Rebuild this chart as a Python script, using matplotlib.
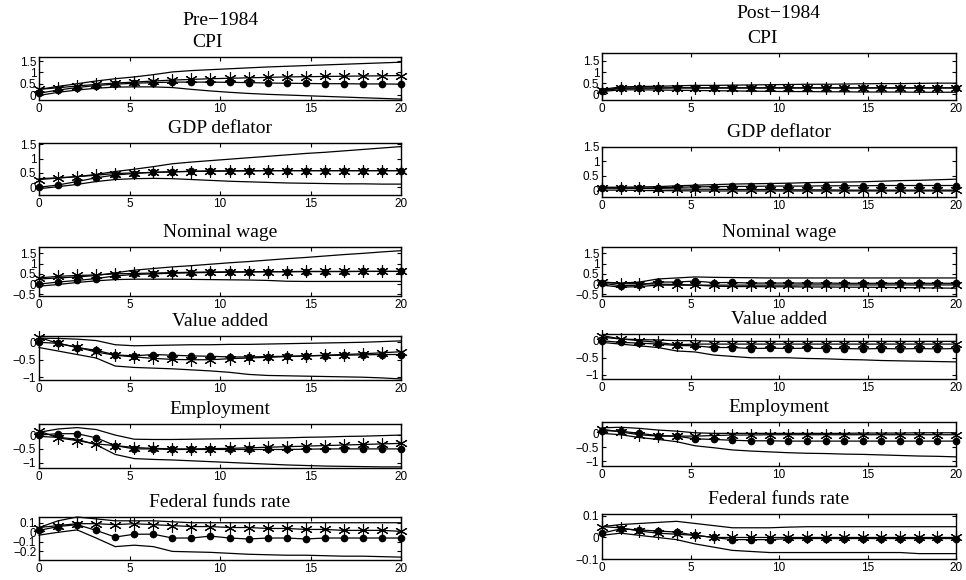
import numpy as np
import matplotlib
matplotlib.use("Agg")
import matplotlib.pyplot as plt
from matplotlib.ticker import FuncFormatter

# 20 responses spread over the 0-20 quarter axis
horizon = np.linspace(0, 20, 20)

titles = ["CPI", "GDP deflator", "Nominal wage", "Value added",
          "Employment", "Federal funds rate"]

# ---------------- Pre-1984 ----------------
pre_cpi_hi = [0.25, 0.38, 0.5, 0.62, 0.72, 0.8, 0.9, 1.02, 1.08, 1.12,
              1.16, 1.2, 1.24, 1.27, 1.3, 1.33, 1.36, 1.39, 1.42, 1.45]
pre_cpi_lo = [-0.02, 0.12, 0.22, 0.3, 0.35, 0.36, 0.36, 0.33, 0.25, 0.18,
              0.12, 0.07, 0.03, 0.0, -0.03, -0.06, -0.09, -0.12, -0.15, -0.18]
pre_cpi_est = [0.08, 0.22, 0.33, 0.42, 0.48, 0.52, 0.55, 0.57, 0.57, 0.57,
               0.56, 0.55, 0.53, 0.52, 0.51, 0.5, 0.5, 0.49, 0.49, 0.48]
pre_cpi_alt = [0.25, 0.32, 0.4, 0.47, 0.53, 0.57, 0.62, 0.66, 0.69, 0.72,
               0.74, 0.76, 0.78, 0.8, 0.81, 0.82, 0.83, 0.84, 0.85, 0.86]

pre_gdp_hi = [0.3, 0.33, 0.37, 0.45, 0.55, 0.63, 0.72, 0.82, 0.88, 0.93,
              0.98, 1.03, 1.08, 1.13, 1.18, 1.22, 1.27, 1.32, 1.37, 1.42]
pre_gdp_lo = [-0.05, 0.02, 0.1, 0.2, 0.27, 0.3, 0.31, 0.3, 0.27, 0.24,
              0.21, 0.19, 0.17, 0.15, 0.14, 0.13, 0.12, 0.12, 0.11, 0.11]
pre_gdp_est = [0.0, 0.08, 0.2, 0.33, 0.43, 0.48, 0.52, 0.54, 0.56, 0.57,
               0.57, 0.58, 0.58, 0.58, 0.58, 0.58, 0.58, 0.58, 0.58, 0.58]
pre_gdp_alt = [0.27, 0.32, 0.37, 0.42, 0.48, 0.5, 0.52, 0.54, 0.55, 0.56,
               0.57, 0.57, 0.58, 0.58, 0.58, 0.58, 0.58, 0.58, 0.58, 0.58]

pre_wage_hi = [0.25, 0.3, 0.35, 0.42, 0.55, 0.68, 0.76, 0.84, 0.9, 0.97,
               1.04, 1.1, 1.17, 1.24, 1.3, 1.37, 1.44, 1.5, 1.57, 1.63]
pre_wage_lo = [-0.1, -0.02, 0.08, 0.16, 0.22, 0.24, 0.24, 0.24, 0.23, 0.22,
               0.21, 0.2, 0.18, 0.14, 0.13, 0.13, 0.13, 0.13, 0.13, 0.13]
pre_wage_est = [0.0, 0.1, 0.18, 0.27, 0.4, 0.47, 0.5, 0.53, 0.55, 0.57,
                0.58, 0.59, 0.6, 0.6, 0.61, 0.61, 0.61, 0.62, 0.62, 0.62]
pre_wage_alt = [0.3, 0.38, 0.42, 0.45, 0.5, 0.52, 0.54, 0.56, 0.58, 0.59,
                0.6, 0.6, 0.61, 0.61, 0.62, 0.62, 0.62, 0.62, 0.62, 0.62]

pre_va_hi = [0.12, 0.11, 0.09, 0.05, -0.07, -0.1, -0.09, -0.08, -0.07, -0.07,
             -0.06, -0.06, -0.05, -0.04, -0.03, -0.02, -0.01, 0.0, 0.02, 0.04]
pre_va_lo = [-0.15, -0.25, -0.35, -0.45, -0.68, -0.72, -0.74, -0.76, -0.79, -0.82,
             -0.86, -0.92, -0.95, -0.96, -0.97, -0.98, -0.99, -1.0, -1.02, -1.05]
pre_va_est = [0.0, -0.03, -0.15, -0.23, -0.36, -0.39, -0.35, -0.37, -0.39, -0.4,
              -0.42, -0.42, -0.41, -0.4, -0.39, -0.38, -0.37, -0.36, -0.35, -0.35]
pre_va_alt = [0.14, -0.03, -0.14, -0.28, -0.37, -0.42, -0.46, -0.49, -0.5, -0.5,
              -0.47, -0.45, -0.43, -0.41, -0.39, -0.37, -0.35, -0.33, -0.3, -0.27]

pre_emp_hi = [0.1, 0.22, 0.27, 0.2, 0.0, -0.15, -0.16, -0.16, -0.15, -0.14,
              -0.13, -0.12, -0.11, -0.1, -0.08, -0.07, -0.05, -0.04, -0.02, 0.0]
pre_emp_lo = [-0.05, -0.08, -0.15, -0.35, -0.7, -0.85, -0.88, -0.9, -0.93, -0.96,
              -0.99, -1.02, -1.05, -1.08, -1.1, -1.12, -1.13, -1.14, -1.15, -1.15]
pre_emp_est = [0.0, 0.05, 0.05, -0.1, -0.38, -0.5, -0.5, -0.52, -0.52, -0.52,
               -0.52, -0.52, -0.52, -0.52, -0.51, -0.5, -0.5, -0.5, -0.5, -0.5]
pre_emp_alt = [0.15, -0.1, -0.2, -0.32, -0.38, -0.45, -0.48, -0.5, -0.5, -0.49,
               -0.48, -0.46, -0.44, -0.42, -0.4, -0.38, -0.36, -0.34, -0.32, -0.3]

pre_ffr_hi = [0.05, 0.12, 0.16, 0.14, 0.12, 0.12, 0.12, 0.11, 0.1, 0.1,
              0.1, 0.1, 0.1, 0.1, 0.1, 0.1, 0.1, 0.1, 0.1, 0.1]
pre_ffr_lo = [-0.03, 0.0, 0.025, -0.06, -0.15, -0.135, -0.15, -0.2, -0.205, -0.21,
              -0.22, -0.23, -0.235, -0.24, -0.24, -0.245, -0.25, -0.25, -0.255, -0.26]
pre_ffr_est = [0.02, 0.06, 0.08, 0.02, -0.05, -0.02, -0.02, -0.06, -0.06, -0.04,
               -0.06, -0.07, -0.06, -0.06, -0.07, -0.06, -0.06, -0.06, -0.06, -0.06]
pre_ffr_alt = [0.05, 0.07, 0.09, 0.09, 0.08, 0.09, 0.08, 0.07, 0.06, 0.06,
               0.05, 0.05, 0.04, 0.04, 0.03, 0.03, 0.02, 0.02, 0.02, 0.01]

# ---------------- Post-1984 ----------------
post_cpi_hi = [0.22, 0.33, 0.35, 0.36, 0.38, 0.4, 0.4, 0.41, 0.42, 0.43,
               0.44, 0.45, 0.45, 0.46, 0.47, 0.48, 0.48, 0.49, 0.5, 0.5]
post_cpi_lo = [0.12, 0.2, 0.2, 0.19, 0.18, 0.17, 0.16, 0.15, 0.14, 0.13,
               0.12, 0.12, 0.11, 0.11, 0.1, 0.1, 0.1, 0.09, 0.09, 0.09]
post_cpi_est = [0.15, 0.27, 0.28, 0.28, 0.29, 0.29, 0.29, 0.29, 0.29, 0.29,
                0.29, 0.29, 0.29, 0.29, 0.29, 0.29, 0.29, 0.29, 0.29, 0.29]
post_cpi_alt = [0.18, 0.28, 0.28, 0.28, 0.29, 0.28, 0.28, 0.28, 0.28, 0.28,
                0.28, 0.28, 0.28, 0.28, 0.28, 0.28, 0.28, 0.28, 0.28, 0.28]

post_gdp_hi = [0.1, 0.1, 0.11, 0.12, 0.15, 0.17, 0.19, 0.21, 0.22, 0.23,
               0.24, 0.26, 0.27, 0.28, 0.29, 0.31, 0.33, 0.34, 0.36, 0.38]
post_gdp_lo = [0.0, 0.0, -0.01, -0.02, -0.02, -0.03, -0.03, -0.03, -0.03, -0.03,
               -0.03, -0.03, -0.03, -0.03, -0.03, -0.03, -0.03, -0.03, -0.03, -0.03]
post_gdp_est = [0.07, 0.07, 0.07, 0.08, 0.1, 0.11, 0.12, 0.13, 0.13, 0.14,
                0.14, 0.14, 0.15, 0.15, 0.15, 0.16, 0.16, 0.16, 0.16, 0.16]
post_gdp_alt = [0.08, 0.07, 0.06, 0.05, 0.04, 0.03, 0.03, 0.02, 0.02, 0.02,
                0.01, 0.01, 0.01, 0.0, 0.0, 0.0, 0.0, 0.0, 0.0, 0.0]

post_wage_hi = [0.1, 0.05, 0.1, 0.25, 0.3, 0.35, 0.33, 0.32, 0.31, 0.3,
                0.3, 0.3, 0.3, 0.3, 0.3, 0.3, 0.3, 0.3, 0.3, 0.3]
post_wage_lo = [-0.05, -0.15, -0.12, -0.05, -0.05, -0.05, -0.1, -0.12, -0.12, -0.13,
                -0.13, -0.14, -0.14, -0.15, -0.15, -0.16, -0.17, -0.18, -0.19, -0.2]
post_wage_est = [0.05, -0.08, -0.05, 0.1, 0.1, 0.15, 0.07, 0.08, 0.05, 0.05,
                 0.05, 0.05, 0.05, 0.04, 0.04, 0.04, 0.04, 0.04, 0.04, 0.04]
post_wage_alt = [0.1, 0.02, 0.02, 0.0, -0.02, -0.05, -0.05, -0.05, -0.05, -0.05,
                 -0.05, -0.04, -0.04, -0.04, -0.04, -0.04, -0.04, -0.04, -0.04, -0.04]

post_va_hi = [0.1, 0.05, 0.03, 0.02, 0.0, 0.0, -0.02, -0.02, -0.02, -0.02,
              -0.02, -0.02, -0.02, -0.02, -0.02, -0.02, -0.02, -0.02, -0.02, -0.02]
post_va_lo = [-0.05, -0.1, -0.15, -0.2, -0.3, -0.33, -0.42, -0.46, -0.5, -0.5,
              -0.5, -0.52, -0.53, -0.55, -0.56, -0.58, -0.59, -0.6, -0.61, -0.62]
post_va_est = [0.0, -0.05, -0.07, -0.1, -0.14, -0.15, -0.2, -0.2, -0.23, -0.22,
               -0.23, -0.22, -0.23, -0.23, -0.24, -0.23, -0.24, -0.23, -0.24, -0.23]
post_va_alt = [0.15, 0.05, 0.0, -0.05, -0.12, -0.1, -0.1, -0.1, -0.1, -0.1,
               -0.1, -0.1, -0.1, -0.1, -0.1, -0.1, -0.1, -0.1, -0.1, -0.1]

post_emp_hi = [0.2, 0.22, 0.18, 0.12, 0.08, 0.02, 0.0, 0.0, 0.0, 0.0,
               0.0, 0.0, 0.0, 0.0, 0.01, 0.01, 0.01, 0.02, 0.02, 0.02]
post_emp_lo = [0.0, -0.05, -0.15, -0.22, -0.3, -0.45, -0.52, -0.6, -0.64, -0.67,
               -0.7, -0.72, -0.73, -0.75, -0.76, -0.78, -0.8, -0.82, -0.83, -0.85]
post_emp_est = [0.1, 0.08, 0.0, -0.08, -0.1, -0.2, -0.22, -0.25, -0.27, -0.27,
                -0.28, -0.28, -0.28, -0.28, -0.28, -0.28, -0.28, -0.28, -0.28, -0.28]
post_emp_alt = [0.15, 0.05, -0.05, -0.1, -0.1, -0.1, -0.08, -0.06, -0.06, -0.05,
                -0.05, -0.05, -0.05, -0.05, -0.05, -0.05, -0.05, -0.05, -0.05, -0.05]

post_ffr_hi = [0.05, 0.06, 0.065, 0.07, 0.075, 0.065, 0.055, 0.045, 0.045, 0.045,
               0.048, 0.05, 0.05, 0.05, 0.05, 0.05, 0.05, 0.05, 0.05, 0.05]
post_ffr_lo = [0.01, 0.02, 0.01, 0.0, -0.01, -0.03, -0.045, -0.06, -0.065, -0.07,
               -0.07, -0.07, -0.07, -0.07, -0.07, -0.07, -0.07, -0.075, -0.075, -0.075]
post_ffr_est = [0.02, 0.04, 0.035, 0.03, 0.025, 0.01, 0.0, -0.01, -0.01, -0.01,
                -0.005, -0.005, -0.005, -0.005, -0.005, -0.005, -0.005, -0.005, -0.005, -0.005]
post_ffr_alt = [0.05, 0.045, 0.03, 0.02, 0.015, 0.01, 0.0, 0.0, 0.0, 0.0,
                0.0, 0.0, 0.0, 0.0, 0.0, 0.0, 0.0, 0.0, 0.0, 0.0]

pre_panels = [
    (pre_cpi_hi, pre_cpi_lo, pre_cpi_est, pre_cpi_alt),
    (pre_gdp_hi, pre_gdp_lo, pre_gdp_est, pre_gdp_alt),
    (pre_wage_hi, pre_wage_lo, pre_wage_est, pre_wage_alt),
    (pre_va_hi, pre_va_lo, pre_va_est, pre_va_alt),
    (pre_emp_hi, pre_emp_lo, pre_emp_est, pre_emp_alt),
    (pre_ffr_hi, pre_ffr_lo, pre_ffr_est, pre_ffr_alt),
]
post_panels = [
    (post_cpi_hi, post_cpi_lo, post_cpi_est, post_cpi_alt),
    (post_gdp_hi, post_gdp_lo, post_gdp_est, post_gdp_alt),
    (post_wage_hi, post_wage_lo, post_wage_est, post_wage_alt),
    (post_va_hi, post_va_lo, post_va_est, post_va_alt),
    (post_emp_hi, post_emp_lo, post_emp_est, post_emp_alt),
    (post_ffr_hi, post_ffr_lo, post_ffr_est, post_ffr_alt),
]

# y ranges and ticks for each row
pre_ylims = [(-0.22, 1.68), (-0.27, 1.545), (-0.58, 1.81),
             (-1.08, 0.18), (-1.19, 0.4), (-0.29, 0.16)]
post_ylims = [(-0.26, 1.86), (-0.24, 1.5), (-0.58, 1.81),
              (-1.12, 0.195), (-1.18, 0.41), (-0.1, 0.109)]
pre_yticks = [[0, 0.5, 1, 1.5], [0, 0.5, 1, 1.5], [-0.5, 0, 0.5, 1, 1.5],
              [-1, -0.5, 0], [-1, -0.5, 0], [-0.2, -0.1, 0, 0.1]]
post_yticks = [[0, 0.5, 1, 1.5], [0, 0.5, 1, 1.5], [-0.5, 0, 0.5, 1, 1.5],
               [-1, -0.5, 0], [-1, -0.5, 0], [-0.1, 0, 0.1]]

# axes boxes in pixels: (top, bottom) per row, (left, right) per column
pre_rows = [(57, 100), (143, 195), (247, 296), (336, 380), (424, 468), (517, 560)]
post_rows = [(53, 100), (147, 197), (247, 296), (334, 379), (422, 466), (514, 559)]
pre_cols = (39, 401)
post_cols = (602, 956)

W, H = 966, 580
SERIF = ["Liberation Serif", "DejaVu Serif"]
SANS = ["Liberation Sans", "DejaVu Sans"]


def fmt(v, pos):
    return f"{v:g}".replace("-", "\u2212")


def draw_panel(fig, cols, rows, series, ylim, yticks, title):
    left, right = cols
    top, bottom = rows
    ax = fig.add_axes([left / W, 1 - bottom / H, (right - left) / W, (bottom - top) / H])
    hi, lo, est, alt = series
    ax.plot(horizon, hi, color="black", lw=0.9, clip_on=False)
    ax.plot(horizon, lo, color="black", lw=0.9, clip_on=False)
    ax.plot(horizon, alt, color="black", lw=0.9, marker=(6, 2, 0), ms=9,
            mew=0.8, clip_on=False)
    ax.plot(horizon, est, color="black", lw=0.9, marker="o", ms=4.5, clip_on=False)
    ax.set_xlim(0, 20)
    ax.set_ylim(*ylim)
    ax.set_xticks([0, 5, 10, 15, 20])
    ax.set_yticks(yticks)
    ax.yaxis.set_major_formatter(FuncFormatter(fmt))
    ax.tick_params(direction="in", length=3, width=0.8, top=True, right=True,
                   labelsize=8.5, pad=2)
    for lab in ax.get_xticklabels() + ax.get_yticklabels():
        lab.set_family(SANS)
    for sp in ax.spines.values():
        sp.set_linewidth(1.0)
    ax.set_title(title, fontsize=14, family=SERIF, pad=7.5)
    return ax


fig = plt.figure(figsize=(W / 100, H / 100), dpi=100)

for i in range(6):
    ax_pre = draw_panel(fig, pre_cols, pre_rows[i], pre_panels[i],
                        pre_ylims[i], pre_yticks[i], titles[i])
    ax_post = draw_panel(fig, post_cols, post_rows[i], post_panels[i],
                         post_ylims[i], post_yticks[i], titles[i])
    if i == 0:
        # top row carries the sample period above the variable name
        ax_pre.title.set_x((207 - pre_cols[0]) / (pre_cols[1] - pre_cols[0]))
        ax_post.title.set_x((763 - post_cols[0]) / (post_cols[1] - post_cols[0]))
        fig.text(220 / W, 1 - 25 / H, "Pre\u22121984", ha="center", va="baseline",
                 fontsize=14, family=SERIF)
        fig.text(778 / W, 1 - 18 / H, "Post\u22121984", ha="center", va="baseline",
                 fontsize=14, family=SERIF)

fig.savefig("out.png", dpi=100)
